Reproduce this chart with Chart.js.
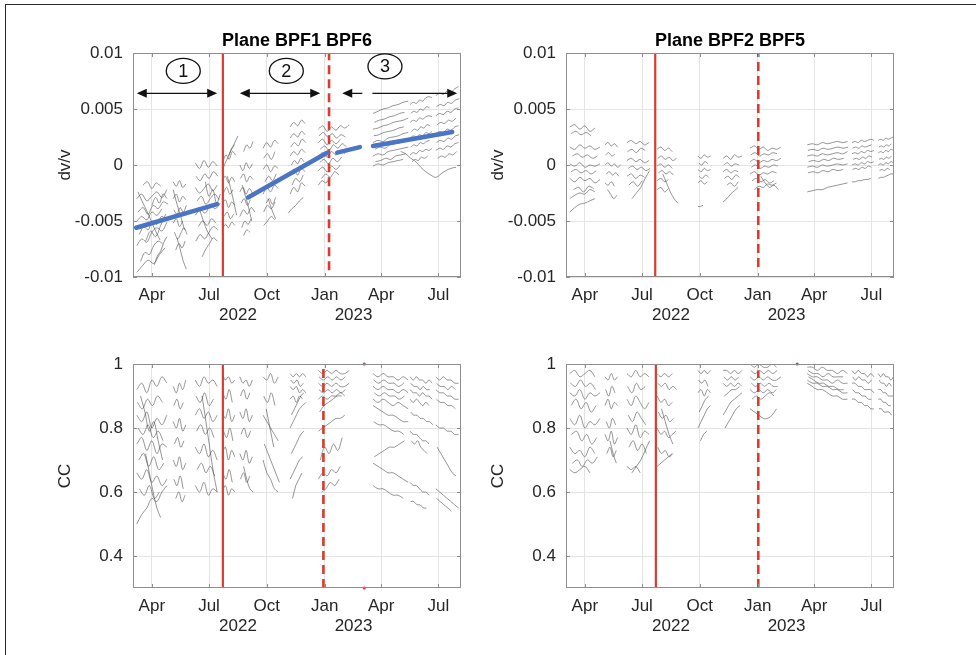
<!DOCTYPE html>
<html>
<head>
<meta charset="utf-8">
<script src="https://cdn.jsdelivr.net/npm/chart.js@4.4.1/dist/chart.umd.min.js"></script>
<style>
  html, body { margin: 0; padding: 0; background: #fff; }
  body { width: 976px; height: 655px; position: relative; overflow: hidden; }
  .frame { position: absolute; left: 5px; top: 4px; width: 990px; height: 670px;
           border-top: 1.5px solid #2a2a2a; border-left: 1.5px solid #2a2a2a; }
  .panel { position: absolute; }
</style>
</head>
<body>
<div class="frame"></div>
<div class="panel" style="left:0;top:20px"><canvas id="tl" width="490" height="307"></canvas></div>
<div class="panel" style="left:433px;top:20px"><canvas id="tr" width="490" height="307"></canvas></div>
<div class="panel" style="left:0;top:330px"><canvas id="bl" width="490" height="308"></canvas></div>
<div class="panel" style="left:433px;top:330px"><canvas id="br" width="490" height="308"></canvas></div>
<script>
// x axis is "days since 1 Jan 2022"
const dayMin = 60, dayMax = 582;
const monthTickDays = [90, 181, 273, 365, 455, 546];
const monthTickLabels = ["Apr", "Jul", "Oct", "Jan", "Apr", "Jul"];
const yearLabels = ["2022", "2023"];
const yearLabelDays = [227, 411];

const panelTitles = ["Plane BPF1 BPF6", "Plane BPF2 BPF5"];

// red markers, order: [BPF1 BPF6 dv/v, BPF2 BPF5 dv/v, BPF1 BPF6 CC, BPF2 BPF5 CC]
const redSolidDay = [203, 202, 203, 203];
const redDashedDay = [372, 366, 363, 366];
const redDashedTop = [0.01, 0.01, 0.985, 0.98];
const redDashedBottom = [-0.0094, -0.0091, 0.3, 0.3];
const redMarkDay = 428;

// linear trends (BPF1 BPF6), dv/v in 1e-3
const trendDays = [[65, 194], [243, 369], [385, 421], [442, 568]];
const trendDvv = [[-5.6, -3.5], [-2.9, 1.1], [1.1, 1.6], [1.7, 2.95]];

// phase annotations
const phaseLabels = ["1", "2", "3"];
const phaseLabelDays = [140, 304, 461];
const phaseLabelDvv = [8.4, 8.4, 8.8];
const phaseArrowDays = [[66, 194], [230, 358], [393, 576]];
const phaseArrowDvv = 6.4;

// daily curves: [startDay, stepDays, value, value, ...]
// dv/v values in units of 1e-3
const dvvSegsBPF16 = [
  [66, 8, -3.0, -2.6, -3.2, -2.8, -2.4, -2.9, -2.2],
  [68, 8, -4.2, -3.8, -4.4, -3.6, -3.9, -3.3, -3.5],
  [66, 8, -5.0, -4.6, -4.9, -4.2, -4.5, -3.9],
  [70, 7, -6.2, -5.5, -5.8, -5.0, -5.3, -4.6, -4.8],
  [66, 8, -7.2, -6.6, -6.9, -6.0, -5.6, -5.9, -5.1],
  [72, 7, -8.6, -7.8, -8.0, -7.2, -6.8, -7.0],
  [66, 9, -9.6, -9.0, -8.5, -8.8, -8.0, -7.4],
  [76, 7, -1.8, -1.5, -2.1, -1.6, -1.9],
  [90, 6, -3.6, -2.9, -3.4, -2.6, -3.0],
  [80, 8, -6.8, -5.9, -6.4, -5.4, -4.4],
  [68, 7, -2.4, -3.3, -4.1, -5.0, -5.9, -6.7],
  [94, 5, -8.9, -8.1, -7.7, -6.9, -6.4],
  [124, 5, -1.5, -1.9, -1.4, -2.0, -1.7],
  [124, 5, -3.0, -2.6, -3.3, -2.8, -3.1],
  [125, 5, -4.0, -4.4, -3.8, -4.2, -3.6],
  [124, 5, -5.2, -4.8, -5.5, -5.0],
  [126, 5, -6.0, -6.6, -6.1, -5.6, -6.2],
  [128, 5, -7.6, -7.0, -7.4, -6.8],
  [124, 6, -2.2, -3.5, -4.6, -5.8],
  [130, 5, -6.5, -7.5, -8.6, -9.3],
  [159, 7, 0.2, -0.3, 0.4, -0.2, 0.3, -0.1],
  [160, 7, -1.0, -1.4, -0.8, -1.2, -0.6, -1.0],
  [159, 7, -2.0, -2.5, -2.1, -1.7, -2.3, -1.8],
  [162, 7, -3.2, -2.8, -3.5, -3.0, -2.6, -3.1],
  [159, 8, -4.5, -4.0, -4.3, -3.6, -3.9, -3.4],
  [164, 7, -5.5, -5.0, -5.4, -4.8, -5.2],
  [160, 7, -6.8, -6.2, -6.6, -6.0, -5.5, -5.8],
  [170, 6, -8.2, -7.5, -7.0, -6.5, -6.8],
  [165, 7, -3.8, -5.0, -6.0, -6.6],
  [175, 6, -1.5, -2.8, -2.2, -3.4, -2.6],
  [202, 5, -0.5, 0.2, 0.8, 1.5, 1.8],
  [203, 5, 0.3, 0.9, 0.5, 1.2, 0.9],
  [202, 5, -1.4, -1.0, -1.6, -1.1, -1.5],
  [204, 5, -2.5, -2.0, -2.6, -2.2],
  [202, 5, -3.5, -3.1, -3.8, -3.3, -3.6],
  [205, 5, -4.6, -4.2, -4.8, -4.4],
  [202, 5, -5.8, -5.3, -5.6, -5.1, -5.4],
  [210, 5, -1.0, -2.0, -3.2, -4.5],
  [212, 5, 0.8, 1.4, 2.0, 2.6],
  [230, 5, 0.0, -0.5, 0.2, -0.3, 0.1],
  [231, 5, -1.2, -0.8, -1.5, -1.0, -1.3],
  [230, 5, -2.4, -2.0, -2.6, -2.1, -2.5],
  [232, 5, -3.4, -3.0, -3.6, -3.1],
  [230, 6, -4.6, -4.0, -4.4, -3.8, -4.2],
  [233, 5, -5.6, -5.0, -5.3, -4.8],
  [236, 5, -6.3, -5.8, -6.0],
  [234, 5, -1.8, -2.8, -3.8, -5.0],
  [236, 5, 1.2, 1.8, 1.5, 2.1],
  [267, 6, 1.5, 2.0, 1.6, 2.2, 1.9],
  [268, 6, 0.6, 1.0, 0.5, 1.2],
  [267, 6, -0.4, 0.0, -0.6, -0.1, -0.3],
  [270, 6, -1.5, -1.0, -1.4, -0.8],
  [267, 6, -2.6, -2.0, -2.4, -1.8, -2.1],
  [272, 5, -3.4, -3.0, -3.5, -2.9],
  [268, 6, -4.2, -3.6, -3.9, -3.3],
  [275, 6, -3.0, -4.0, -4.8],
  [268, 6, -5.4, -5.0, -4.6, -4.9],
  [310, 6, 3.4, 3.8, 3.5, 4.0, 3.7],
  [310, 6, 2.4, 2.8, 2.5, 3.0, 2.7],
  [311, 6, 1.6, 2.0, 1.7, 2.3, 2.0],
  [310, 6, 0.8, 1.2, 0.9, 1.4, 1.1],
  [312, 5, 0.0, 0.4, 0.1, 0.6, 0.3],
  [310, 6, -0.8, -0.4, -0.9, -0.3, -0.6],
  [313, 6, -1.8, -1.2, -1.5, -0.9],
  [310, 6, -2.6, -2.0, -2.4, -1.6, -1.9],
  [307, 6, -4.3, -3.9, -3.6, -3.2, -2.9],
  [355, 7, 3.2, 3.5, 3.0, 3.4, 3.1, 3.5, 3.3, 3.6],
  [356, 7, 2.6, 2.9, 2.5, 2.8, 2.4, 2.7, 2.5],
  [355, 7, 2.0, 2.3, 1.8, 2.2, 1.9, 2.3],
  [358, 7, 1.4, 1.7, 1.3, 1.8, 1.5, 1.9, 1.6],
  [355, 7, 0.8, 1.1, 0.7, 1.2, 0.9, 1.3, 1.0],
  [357, 7, 0.2, 0.5, 0.1, 0.6, 0.3, 0.7],
  [355, 7, -0.5, -0.2, -0.6, -0.1, -0.4, 0.0],
  [360, 7, -1.2, -0.8, -1.1, -0.6, -0.9],
  [355, 6, -1.8, -1.4, -1.6, -1.1],
  [442, 8, 4.6, 4.8, 5.0, 5.1, 5.3, 5.4, 5.6, 5.7],
  [444, 8, 3.8, 4.0, 4.1, 4.3, 4.4, 4.6, 4.7],
  [442, 8, 3.2, 3.3, 3.5, 3.6, 3.8, 3.9, 4.0, 4.2],
  [443, 8, 2.6, 2.7, 2.9, 3.0, 3.1, 3.3, 3.4],
  [442, 8, 2.0, 2.2, 2.1, 2.4, 2.5, 2.6, 2.8, 2.9],
  [445, 8, 1.4, 1.6, 1.5, 1.8, 1.9, 2.0, 2.2],
  [442, 8, 0.8, 1.0, 0.9, 1.2, 1.3, 1.4, 1.5, 1.6],
  [446, 8, 0.3, 0.4, 0.6, 0.5, 0.8, 0.9, 1.0],
  [442, 8, -0.1, 0.1, 0.0, 0.2, 0.3, 0.4, 0.5],
  [486, 8, 1.2, 1.0, 0.6, 0.3, -0.2, -0.6, -0.9, -1.1, -0.8, -0.5, -0.3, -0.2],
  [501, 5, 5.4, 5.6, 5.5, 5.8, 5.7, 6.0, 6.1, 6.0],
  [502, 5, 4.6, 4.8, 4.7, 5.0, 4.9, 5.2, 5.1],
  [501, 5, 3.8, 4.0, 3.9, 4.2, 4.1, 4.3, 4.4, 4.3],
  [503, 5, 3.0, 3.2, 3.1, 3.4, 3.3, 3.6, 3.5],
  [501, 5, 2.4, 2.6, 2.5, 2.7, 2.6, 2.9, 2.8, 3.0],
  [502, 5, 1.6, 1.8, 1.7, 2.0, 1.9, 2.1, 2.2],
  [501, 5, 0.9, 1.1, 1.0, 1.3, 1.2, 1.4, 1.3, 1.5],
  [504, 5, 0.3, 0.5, 0.4, 0.7, 0.6, 0.8],
  [542, 6, 6.2, 6.4, 6.3, 6.6, 6.5, 6.8, 7.0],
  [543, 6, 5.2, 5.4, 5.3, 5.6, 5.5, 5.8, 5.9],
  [542, 6, 4.4, 4.6, 4.5, 4.8, 4.7, 5.0, 5.1],
  [544, 6, 3.6, 3.8, 3.7, 4.0, 3.9, 4.2],
  [542, 6, 2.8, 3.0, 2.9, 3.2, 3.1, 3.4, 3.5],
  [543, 6, 2.0, 2.2, 2.1, 2.4, 2.3, 2.6, 2.7],
  [542, 6, 1.3, 1.5, 1.4, 1.7, 1.6, 1.9, 2.0],
  [545, 6, 0.6, 0.8, 0.7, 1.0, 0.9, 1.2]
];

const dvvSegsBPF25 = [
  [66, 8, 3.4, 3.6, 3.2, 3.5, 3.0, 3.3],
  [68, 8, 2.8, 3.0, 2.7, 2.9, 2.6],
  [66, 8, 1.6, 1.4, 1.8, 1.5, 1.7, 1.4, 1.6],
  [70, 8, 0.8, 1.0, 0.7, 0.9, 0.6, 0.8],
  [66, 8, 0.1, -0.1, 0.2, -0.2, 0.0, -0.1, 0.1],
  [68, 8, -0.6, -0.4, -0.7, -0.5, -0.8, -0.5],
  [66, 8, -1.2, -1.5, -1.1, -1.4, -1.2, -1.6, -1.3],
  [72, 8, -2.2, -2.0, -2.4, -1.9, -2.1],
  [66, 8, -3.0, -2.7, -2.5, -2.6, -2.2, -2.4],
  [66, 8, -4.2, -3.8, -3.5, -3.4, -3.2, -3.0],
  [122, 5, 1.8, 2.0, 1.7, 1.9, 1.6],
  [123, 5, 0.9, 1.1, 0.8, 1.0],
  [122, 5, 0.0, 0.2, -0.1, 0.1, -0.2, 0.0],
  [124, 5, -0.8, -0.6, -0.9, -0.7, -1.0],
  [122, 5, -1.6, -1.8, -1.5, -1.9],
  [126, 5, -2.2, -2.6, -3.0, -2.7],
  [157, 7, 2.0, 2.2, 1.9, 2.1, 1.8, 2.0],
  [158, 7, 1.2, 1.4, 1.1, 1.5, 1.3],
  [157, 7, 0.4, 0.6, 0.3, 0.5, 0.2, 0.4],
  [159, 7, -0.3, -0.1, -0.4, -0.2, -0.5, -0.3],
  [157, 7, -1.0, -0.8, -1.2, -0.9, -1.1],
  [160, 7, -1.8, -1.5, -1.9, -1.4],
  [165, 7, -3.0, -2.5, -2.0, -1.2, -0.5],
  [205, 6, 1.4, 1.6, 1.3, 1.5, 1.2],
  [206, 6, 0.6, 0.8, 0.5, 0.7, 0.4, 0.6],
  [205, 6, -0.1, 0.1, -0.2, 0.0, -0.3],
  [207, 6, -0.7, -0.5, -0.8, -0.6, -0.9],
  [205, 6, -1.4, -1.2, -1.5, -1.3],
  [214, 6, -0.8, -1.6, -2.4, -3.0, -3.4],
  [205, 6, -2.2, -2.0, -2.4, -2.1],
  [270, 5, 0.8, 0.6, 0.9, 0.7, 0.8],
  [271, 5, 0.2, 0.0, 0.3, 0.1],
  [270, 5, -0.4, -0.6, -0.3, -0.5, -0.4],
  [272, 5, -1.0, -1.2, -0.9, -1.1],
  [270, 5, -1.6, -1.4, -1.7, -1.5],
  [270, 4, -3.7, -3.7, -3.6],
  [310, 6, 0.6, 0.8, 0.5, 0.9, 0.7, 0.8],
  [311, 6, 0.0, 0.2, -0.1, 0.1, 0.0],
  [310, 6, -0.6, -0.4, -0.7, -0.5, -0.6],
  [312, 6, -1.2, -1.0, -1.3, -0.9, -1.1],
  [310, 6, -3.3, -3.0, -2.6, -2.3, -2.0],
  [316, 6, -1.8, -1.6, -1.9, -1.5],
  [353, 7, 1.5, 1.7, 1.4, 1.6, 1.3, 1.5, 1.4, 1.6],
  [354, 7, 0.9, 1.1, 0.8, 1.0, 0.9, 1.1, 1.0],
  [353, 7, 0.3, 0.5, 0.2, 0.4, 0.3, 0.5, 0.4, 0.6],
  [355, 7, -0.2, 0.0, -0.3, -0.1, -0.2, 0.0, -0.1],
  [353, 7, -0.8, -0.6, -0.9, -0.7, -0.8, -0.6, -0.7],
  [356, 7, -1.4, -1.2, -1.5, -1.3, -1.6, -1.4],
  [360, 7, -2.2, -1.9, -2.0, -1.7, -1.8, -1.6],
  [370, 7, -1.0, -1.6, -2.0, -1.8, -2.2],
  [444, 8, 1.8, 1.9, 1.8, 2.0, 1.9, 2.0, 2.1, 2.0, 2.1],
  [445, 8, 1.3, 1.4, 1.3, 1.5, 1.4, 1.5, 1.6, 1.5, 1.6],
  [444, 8, 0.8, 0.9, 0.8, 1.0, 0.9, 1.0, 1.1, 1.0, 1.2],
  [446, 8, 0.3, 0.4, 0.3, 0.5, 0.4, 0.6, 0.5, 0.6],
  [444, 8, -0.2, -0.1, -0.2, 0.0, -0.1, 0.0, 0.1, 0.0, 0.1],
  [445, 8, -0.7, -0.6, -0.7, -0.5, -0.6, -0.4, -0.5, -0.4],
  [444, 8, -2.4, -2.3, -2.2, -2.2, -2.0, -1.9, -1.8, -1.7, -1.6],
  [515, 5, 2.0, 2.1, 2.0, 2.2, 2.1, 2.2, 2.3, 2.2],
  [516, 5, 1.5, 1.6, 1.5, 1.7, 1.6, 1.7, 1.8],
  [515, 5, 1.0, 1.1, 1.0, 1.2, 1.1, 1.3, 1.2, 1.3],
  [517, 5, 0.5, 0.6, 0.5, 0.7, 0.6, 0.8, 0.7],
  [515, 5, 0.0, 0.1, 0.0, 0.2, 0.1, 0.3, 0.2, 0.3],
  [516, 5, -0.4, -0.3, -0.4, -0.2, -0.3, -0.1, -0.2],
  [515, 5, -1.5, -1.5, -1.4, -1.4, -1.3, -1.3, -1.2],
  [557, 4, 2.2, 2.3, 2.2, 2.4, 2.3, 2.4, 2.5],
  [558, 4, 1.6, 1.7, 1.6, 1.8, 1.7, 1.9],
  [557, 4, 1.1, 1.2, 1.1, 1.3, 1.2, 1.4, 1.3],
  [558, 4, 0.5, 0.6, 0.5, 0.7, 0.6, 0.8],
  [557, 4, 0.0, 0.1, 0.0, 0.2, 0.1, 0.3, 0.2],
  [559, 4, -0.5, -0.4, -0.5, -0.3, -0.4],
  [557, 4, -1.2, -1.1, -1.1, -1.0, -0.9, -0.8, -0.8]
];

const ccSegsBPF16 = [
  [66, 8, 0.92, 0.94, 0.91, 0.95, 0.93, 0.96, 0.94],
  [67, 8, 0.88, 0.86, 0.89, 0.87, 0.90, 0.88],
  [66, 8, 0.84, 0.82, 0.85, 0.80, 0.83, 0.81, 0.84],
  [68, 8, 0.80, 0.78, 0.81, 0.77, 0.79, 0.76],
  [66, 8, 0.75, 0.77, 0.73, 0.76, 0.72, 0.75, 0.74],
  [69, 8, 0.70, 0.72, 0.68, 0.71, 0.67, 0.69],
  [66, 8, 0.66, 0.64, 0.67, 0.63, 0.65, 0.62, 0.64],
  [70, 8, 0.61, 0.59, 0.62, 0.58, 0.60],
  [66, 8, 0.50, 0.53, 0.55, 0.58, 0.57, 0.60, 0.62],
  [80, 6, 0.72, 0.66, 0.60, 0.55, 0.52],
  [72, 7, 0.90, 0.85, 0.79, 0.82, 0.76, 0.70],
  [124, 5, 0.93, 0.91, 0.94, 0.92, 0.95],
  [125, 5, 0.87, 0.89, 0.86, 0.88],
  [124, 5, 0.82, 0.80, 0.83, 0.79, 0.81],
  [126, 5, 0.75, 0.77, 0.74, 0.76],
  [124, 5, 0.70, 0.68, 0.71, 0.67, 0.69],
  [125, 5, 0.64, 0.62, 0.65, 0.61],
  [128, 5, 0.58, 0.60, 0.57, 0.59],
  [159, 7, 0.95, 0.93, 0.96, 0.94, 0.95, 0.93],
  [160, 7, 0.90, 0.88, 0.91, 0.87, 0.89],
  [159, 7, 0.84, 0.86, 0.83, 0.85, 0.82, 0.84],
  [161, 7, 0.79, 0.81, 0.78, 0.80, 0.77],
  [159, 7, 0.74, 0.72, 0.75, 0.71, 0.73, 0.70],
  [162, 7, 0.67, 0.69, 0.66, 0.68, 0.65],
  [159, 7, 0.62, 0.60, 0.63, 0.59, 0.61, 0.60],
  [170, 6, 0.90, 0.82, 0.74, 0.66, 0.60],
  [202, 5, 0.97, 0.95, 0.96, 0.94, 0.95],
  [203, 5, 0.91, 0.89, 0.92, 0.88],
  [202, 5, 0.85, 0.83, 0.86, 0.82, 0.84],
  [204, 5, 0.79, 0.77, 0.80, 0.76],
  [202, 5, 0.72, 0.74, 0.70, 0.73, 0.71],
  [203, 5, 0.66, 0.64, 0.67, 0.63],
  [202, 5, 0.60, 0.62, 0.59, 0.61, 0.60],
  [230, 5, 0.96, 0.94, 0.95, 0.93, 0.95],
  [231, 5, 0.90, 0.92, 0.89, 0.91],
  [230, 5, 0.85, 0.83, 0.86, 0.82, 0.84],
  [232, 5, 0.78, 0.80, 0.77, 0.79],
  [230, 5, 0.72, 0.70, 0.73, 0.69, 0.71],
  [231, 5, 0.64, 0.66, 0.63, 0.65],
  [236, 5, 0.68, 0.64, 0.61, 0.60],
  [267, 6, 0.96, 0.95, 0.97, 0.94, 0.96],
  [268, 6, 0.90, 0.88, 0.91, 0.87],
  [267, 6, 0.84, 0.82, 0.80, 0.78, 0.76],
  [269, 6, 0.75, 0.72, 0.69, 0.66, 0.63],
  [267, 6, 0.70, 0.66, 0.64, 0.61, 0.60],
  [272, 6, 0.86, 0.80, 0.74],
  [310, 5, 0.97, 0.96, 0.97, 0.96, 0.97, 0.96],
  [311, 5, 0.95, 0.94, 0.95, 0.93, 0.94],
  [310, 5, 0.93, 0.92, 0.93, 0.91, 0.92, 0.91],
  [310, 5, 0.89, 0.90, 0.88, 0.90, 0.89],
  [312, 5, 0.84, 0.86, 0.88, 0.90, 0.91],
  [310, 5, 0.80, 0.82, 0.84, 0.86, 0.87, 0.88],
  [312, 5, 0.72, 0.74, 0.76, 0.78, 0.79],
  [310, 5, 0.64, 0.66, 0.68, 0.70, 0.71],
  [314, 5, 0.58, 0.62, 0.64, 0.66],
  [355, 7, 0.98, 0.97, 0.98, 0.97, 0.98, 0.97, 0.97, 0.98],
  [356, 7, 0.96, 0.95, 0.96, 0.95, 0.96, 0.95, 0.96],
  [355, 7, 0.94, 0.93, 0.94, 0.93, 0.94, 0.93, 0.93, 0.94],
  [356, 7, 0.92, 0.91, 0.92, 0.91, 0.92, 0.91, 0.92],
  [355, 7, 0.89, 0.90, 0.89, 0.90, 0.90, 0.91, 0.90],
  [357, 7, 0.85, 0.87, 0.88, 0.89, 0.90, 0.90],
  [355, 7, 0.79, 0.80, 0.81, 0.82, 0.83, 0.83, 0.84],
  [358, 7, 0.70, 0.74, 0.72, 0.75, 0.73, 0.77],
  [355, 7, 0.64, 0.66, 0.65, 0.67, 0.66, 0.68],
  [360, 7, 0.60, 0.61, 0.63, 0.62, 0.64],
  [442, 8, 0.97, 0.96, 0.97, 0.96, 0.96, 0.95, 0.96, 0.95],
  [443, 8, 0.95, 0.94, 0.95, 0.94, 0.94, 0.93, 0.94],
  [442, 8, 0.93, 0.92, 0.93, 0.92, 0.92, 0.91, 0.92, 0.91],
  [444, 8, 0.91, 0.90, 0.91, 0.90, 0.90, 0.89, 0.90],
  [442, 8, 0.89, 0.88, 0.89, 0.88, 0.87, 0.88, 0.87, 0.86],
  [442, 8, 0.87, 0.86, 0.85, 0.84, 0.84, 0.83, 0.82, 0.82],
  [443, 8, 0.82, 0.81, 0.81, 0.80, 0.79, 0.79, 0.78],
  [444, 8, 0.71, 0.72, 0.73, 0.74, 0.74, 0.75, 0.76],
  [442, 8, 0.69, 0.68, 0.67, 0.66, 0.66, 0.65, 0.64, 0.63],
  [442, 8, 0.62, 0.61, 0.61, 0.60, 0.59, 0.59, 0.58],
  [501, 5, 0.96, 0.95, 0.96, 0.95, 0.95, 0.94, 0.95, 0.94],
  [502, 5, 0.94, 0.93, 0.93, 0.92, 0.93, 0.92, 0.92],
  [501, 5, 0.92, 0.91, 0.91, 0.90, 0.91, 0.90, 0.90, 0.89],
  [501, 5, 0.89, 0.88, 0.89, 0.88, 0.87, 0.88, 0.87],
  [502, 5, 0.85, 0.84, 0.84, 0.83, 0.83, 0.82, 0.82, 0.81],
  [501, 5, 0.79, 0.78, 0.78, 0.77, 0.76, 0.76, 0.75],
  [503, 5, 0.76, 0.75, 0.76, 0.74, 0.73, 0.72],
  [501, 5, 0.63, 0.62, 0.62, 0.61, 0.60, 0.60, 0.59],
  [502, 5, 0.57, 0.57, 0.56, 0.56, 0.55, 0.55],
  [542, 6, 0.96, 0.95, 0.96, 0.95, 0.95, 0.94, 0.94],
  [543, 6, 0.94, 0.93, 0.93, 0.92, 0.93, 0.92],
  [542, 6, 0.92, 0.91, 0.91, 0.90, 0.90, 0.89, 0.89],
  [543, 6, 0.89, 0.88, 0.88, 0.87, 0.87, 0.86],
  [542, 6, 0.81, 0.80, 0.80, 0.79, 0.79, 0.78, 0.78],
  [544, 6, 0.74, 0.72, 0.70, 0.68, 0.66, 0.65],
  [542, 6, 0.61, 0.60, 0.59, 0.58, 0.57, 0.56, 0.55],
  [543, 6, 0.58, 0.57, 0.56, 0.55, 0.54]
];

const ccSegsBPF25 = [
  [66, 8, 0.97, 0.98, 0.96, 0.97, 0.98, 0.96],
  [67, 8, 0.94, 0.93, 0.95, 0.93, 0.94, 0.92],
  [66, 8, 0.91, 0.90, 0.92, 0.89, 0.91, 0.90, 0.91],
  [68, 8, 0.87, 0.89, 0.86, 0.88, 0.85, 0.87],
  [66, 8, 0.83, 0.81, 0.84, 0.80, 0.82, 0.81, 0.83],
  [69, 8, 0.78, 0.79, 0.76, 0.78, 0.75, 0.77],
  [66, 8, 0.74, 0.72, 0.73, 0.71, 0.74, 0.72],
  [70, 8, 0.69, 0.70, 0.68, 0.70, 0.69, 0.71],
  [66, 8, 0.67, 0.66, 0.67, 0.68, 0.66],
  [122, 5, 0.96, 0.95, 0.97, 0.95, 0.96],
  [123, 5, 0.92, 0.90, 0.93, 0.91],
  [122, 5, 0.87, 0.89, 0.86, 0.88, 0.87],
  [124, 5, 0.82, 0.80, 0.83, 0.81],
  [122, 5, 0.78, 0.76, 0.79, 0.75, 0.77],
  [125, 5, 0.72, 0.74, 0.71, 0.73],
  [130, 5, 0.76, 0.72, 0.69],
  [157, 7, 0.97, 0.96, 0.98, 0.96, 0.97, 0.96],
  [158, 7, 0.93, 0.91, 0.94, 0.92, 0.93],
  [157, 7, 0.89, 0.87, 0.90, 0.88, 0.86, 0.88],
  [159, 7, 0.84, 0.82, 0.85, 0.83, 0.81],
  [157, 7, 0.80, 0.78, 0.81, 0.77, 0.79, 0.78],
  [160, 7, 0.74, 0.76, 0.73, 0.75, 0.72],
  [165, 7, 0.66, 0.68, 0.70, 0.73, 0.76],
  [157, 7, 0.68, 0.67, 0.68, 0.66],
  [205, 6, 0.97, 0.96, 0.97, 0.96, 0.97],
  [206, 6, 0.94, 0.93, 0.94, 0.92, 0.93, 0.92],
  [205, 6, 0.90, 0.88, 0.89, 0.87, 0.88],
  [207, 6, 0.85, 0.83, 0.84, 0.82, 0.83],
  [205, 6, 0.80, 0.78, 0.79, 0.77, 0.78, 0.79],
  [206, 6, 0.74, 0.72, 0.73, 0.71, 0.72],
  [205, 6, 0.68, 0.69, 0.70, 0.71, 0.72],
  [212, 6, 0.86, 0.82, 0.78, 0.75],
  [270, 5, 0.98, 0.97, 0.98, 0.97, 0.98],
  [271, 5, 0.95, 0.94, 0.95, 0.93],
  [270, 5, 0.91, 0.92, 0.90, 0.92, 0.91],
  [272, 5, 0.85, 0.87, 0.89, 0.90],
  [270, 5, 0.80, 0.82, 0.84, 0.86, 0.87],
  [274, 5, 0.76, 0.78, 0.79],
  [310, 6, 0.98, 0.98, 0.97, 0.98, 0.97, 0.98],
  [311, 6, 0.96, 0.95, 0.96, 0.95, 0.96],
  [310, 6, 0.94, 0.93, 0.94, 0.93, 0.94, 0.93],
  [312, 6, 0.90, 0.91, 0.92, 0.92, 0.93],
  [310, 6, 0.84, 0.86, 0.88, 0.89, 0.90, 0.91],
  [313, 6, 0.80, 0.82, 0.84, 0.86, 0.87],
  [353, 7, 1.00, 0.99, 1.00, 0.99, 0.99, 1.00, 0.99],
  [354, 7, 0.98, 0.97, 0.98, 0.97, 0.98, 0.97, 0.98],
  [353, 7, 0.96, 0.95, 0.96, 0.95, 0.96, 0.95, 0.95, 0.96],
  [355, 7, 0.94, 0.93, 0.94, 0.93, 0.94, 0.93, 0.93],
  [353, 7, 0.92, 0.91, 0.92, 0.91, 0.92, 0.91, 0.92],
  [356, 7, 0.89, 0.90, 0.89, 0.90, 0.91, 0.90],
  [353, 7, 0.86, 0.85, 0.84, 0.83, 0.83, 0.84, 0.86],
  [444, 8, 0.99, 0.99, 0.98, 0.99, 0.98, 0.98, 0.97, 0.98, 0.97],
  [445, 8, 0.98, 0.97, 0.97, 0.96, 0.97, 0.96, 0.96, 0.96],
  [444, 8, 0.97, 0.96, 0.96, 0.95, 0.95, 0.94, 0.95, 0.94, 0.94],
  [446, 8, 0.96, 0.95, 0.94, 0.94, 0.93, 0.93, 0.92, 0.92],
  [444, 8, 0.95, 0.94, 0.94, 0.93, 0.93, 0.92, 0.92, 0.91, 0.91],
  [444, 8, 0.94, 0.93, 0.92, 0.92, 0.91, 0.90, 0.90, 0.89, 0.89],
  [515, 5, 0.98, 0.97, 0.98, 0.97, 0.97, 0.96, 0.97, 0.96],
  [516, 5, 0.96, 0.95, 0.96, 0.95, 0.95, 0.94, 0.95],
  [515, 5, 0.94, 0.94, 0.93, 0.93, 0.92, 0.92, 0.92, 0.91],
  [516, 5, 0.92, 0.91, 0.91, 0.90, 0.90, 0.89, 0.89],
  [515, 5, 0.89, 0.89, 0.88, 0.88, 0.87, 0.87, 0.86, 0.86],
  [557, 4, 0.97, 0.96, 0.97, 0.96, 0.96, 0.95, 0.96],
  [558, 4, 0.95, 0.94, 0.94, 0.93, 0.94, 0.93],
  [557, 4, 0.92, 0.92, 0.91, 0.91, 0.90, 0.90, 0.90],
  [557, 4, 0.89, 0.89, 0.88, 0.88, 0.87, 0.87],
  [558, 4, 0.86, 0.86, 0.85, 0.85, 0.85, 0.84]
];

const FONT = '"Liberation Sans", Arial, Helvetica, sans-serif';
const TEXT = "#262626";
const RED = "#db3a30";
const BLUE = "#4a74c4";
const GRAY_LINE = "rgba(70,70,70,0.72)";
const GRID = "#e4e4e4";

Chart.defaults.font.family = FONT;
Chart.defaults.color = TEXT;

function segmentSets(segs, k) {
  return segs.map(s => ({
    data: s.slice(2).map((v, i) => ({ x: s[0] + i * s[1], y: v * k })),
    borderColor: GRAY_LINE,
    borderWidth: 0.8,
    tension: 0.35,
    pointRadius: 0,
    order: 3
  }));
}

function vline(day, y0, y1, dashed) {
  return {
    data: [{ x: day, y: y0 }, { x: day, y: y1 }],
    borderColor: RED,
    borderWidth: dashed ? 2.6 : 2.2,
    borderDash: dashed ? [9, 5] : [],
    pointRadius: 0,
    order: 1
  };
}

// MATLAB-ish axes box, inward ticks, panel title, year labels and annotations
const matlabLook = {
  id: "matlabLook",
  afterDatasetsDraw(chart, args, opts) {
    const { ctx, chartArea: a, scales: { x, y } } = chart;
    ctx.save();

    ctx.strokeStyle = "#8e8e8e";
    ctx.lineWidth = 1;
    ctx.strokeRect(a.left + 0.5, a.top + 0.5, a.right - a.left - 1, a.bottom - a.top - 1);

    ctx.beginPath();
    x.ticks.forEach(t => {
      const px = Math.round(x.getPixelForValue(t.value)) + 0.5;
      ctx.moveTo(px, a.bottom); ctx.lineTo(px, a.bottom - 4);
      ctx.moveTo(px, a.top); ctx.lineTo(px, a.top + 4);
    });
    y.ticks.forEach(t => {
      const py = Math.round(y.getPixelForValue(t.value)) + 0.5;
      ctx.moveTo(a.left, py); ctx.lineTo(a.left + 4, py);
      ctx.moveTo(a.right, py); ctx.lineTo(a.right - 4, py);
    });
    ctx.stroke();

    ctx.fillStyle = TEXT;
    ctx.textAlign = "center";
    ctx.textBaseline = "middle";
    ctx.font = "17px " + FONT;
    yearLabels.forEach((lab, i) => {
      ctx.fillText(lab, x.getPixelForValue(yearLabelDays[i]), a.bottom + 38);
    });

    if (opts.title) {
      ctx.fillStyle = "#000";
      ctx.font = "bold 18px " + FONT;
      ctx.fillText(opts.title, (a.left + a.right) / 2, a.top - 12);
    }

    if (opts.phases) {
      ctx.strokeStyle = "#111";
      ctx.fillStyle = "#111";
      ctx.lineWidth = 1.2;
      const ay = y.getPixelForValue(phaseArrowDvv * 1e-3);
      phaseArrowDays.forEach(([d0, d1], i) => {
        const x0 = x.getPixelForValue(d0), x1 = x.getPixelForValue(d1);
        ctx.beginPath();
        if (i === 2) {
          ctx.moveTo(x0 + 8, ay); ctx.lineTo(x.getPixelForValue(425), ay);
          ctx.moveTo(x.getPixelForValue(441), ay); ctx.lineTo(x1 - 8, ay);
        } else {
          ctx.moveTo(x0 + 8, ay); ctx.lineTo(x1 - 8, ay);
        }
        ctx.stroke();
        ctx.beginPath();
        ctx.moveTo(x0, ay); ctx.lineTo(x0 + 10, ay - 4.5); ctx.lineTo(x0 + 10, ay + 4.5); ctx.closePath();
        ctx.moveTo(x1, ay); ctx.lineTo(x1 - 10, ay - 4.5); ctx.lineTo(x1 - 10, ay + 4.5); ctx.closePath();
        ctx.fill();
      });
      ctx.font = "18px " + FONT;
      phaseLabels.forEach((lab, i) => {
        const cx = x.getPixelForValue(phaseLabelDays[i]);
        const cy = y.getPixelForValue(phaseLabelDvv[i] * 1e-3);
        ctx.beginPath();
        ctx.ellipse(cx, cy, 17, 12.5, 0, 0, Math.PI * 2);
        ctx.fillStyle = "#fff";
        ctx.fill();
        ctx.lineWidth = 1.3;
        ctx.stroke();
        ctx.fillStyle = "#111";
        ctx.fillText(lab, cx, cy + 1);
      });
    }
    ctx.restore();
  }
};

function xScale() {
  return {
    type: "linear",
    min: dayMin,
    max: dayMax,
    afterBuildTicks: s => { s.ticks = monthTickDays.map(v => ({ value: v })); },
    afterFit: s => { s.height = 50; },
    grid: { color: GRID, drawTicks: false },
    border: { display: false },
    ticks: {
      padding: 8,
      autoSkip: false,
      maxRotation: 0,
      font: { size: 17 },
      callback: (v, i) => monthTickLabels[i]
    }
  };
}

function yScaleDvv() {
  return {
    min: -0.01,
    max: 0.01,
    afterFit: s => { s.width = 133; },
    grid: { color: GRID, drawTicks: false },
    border: { display: false },
    ticks: {
      stepSize: 0.005,
      padding: 10,
      font: { size: 17 },
      callback: v => String(+v.toFixed(3))
    },
    title: { display: true, text: "dv/v", font: { size: 17 }, padding: { top: 55, bottom: 0 } }
  };
}

const ccTicks = [0.4, 0.6, 0.8, 1];
function yScaleCC() {
  return {
    min: 0.3,
    max: 1,
    afterFit: s => { s.width = 133; },
    afterBuildTicks: s => { s.ticks = ccTicks.map(v => ({ value: v })); },
    grid: { color: GRID, drawTicks: false },
    border: { display: false },
    ticks: { padding: 10, font: { size: 17 }, callback: v => String(v) },
    title: { display: true, text: "CC", font: { size: 17 }, padding: { top: 55, bottom: 0 } }
  };
}

function makePanel(id, datasets, yScale, pluginOpts, padTop) {
  new Chart(document.getElementById(id), {
    type: "line",
    data: { datasets },
    options: {
      responsive: false,
      animation: false,
      events: [],
      layout: { padding: { top: padTop, right: 29, bottom: 0, left: 0 } },
      plugins: { legend: { display: false }, tooltip: { enabled: false }, matlabLook: pluginOpts },
      scales: { x: xScale(), y: yScale }
    },
    plugins: [matlabLook]
  });
}

// top left: dv/v, BPF1 BPF6
const trendSets = trendDays.map((d, i) => ({
  data: d.map((day, j) => ({ x: day, y: trendDvv[i][j] * 1e-3 })),
  borderColor: BLUE,
  borderWidth: 4.5,
  borderCapStyle: "round",
  pointRadius: 0,
  order: 0
}));
makePanel("tl", [
  ...trendSets,
  vline(redSolidDay[0], -0.01, 0.01, false),
  vline(redDashedDay[0], redDashedBottom[0], redDashedTop[0], true),
  ...segmentSets(dvvSegsBPF16, 1e-3)
], yScaleDvv(), { title: panelTitles[0], phases: true }, 33);

// top right: dv/v, BPF2 BPF5
makePanel("tr", [
  vline(redSolidDay[1], -0.01, 0.01, false),
  vline(redDashedDay[1], redDashedBottom[1], redDashedTop[1], true),
  ...segmentSets(dvvSegsBPF25, 1e-3)
], yScaleDvv(), { title: panelTitles[1] }, 33);

function redMarks(ys) {
  return {
    data: ys.map(v => ({ x: redMarkDay, y: v })),
    showLine: false,
    pointRadius: 1.6,
    pointBorderWidth: 0,
    pointBackgroundColor: RED,
    clip: false,
    order: 1
  };
}

// bottom left: CC, BPF1 BPF6
makePanel("bl", [
  vline(redSolidDay[2], 0.3, 1, false),
  vline(redDashedDay[2], redDashedBottom[2], redDashedTop[2], true),
  redMarks([1, 0.3]),
  ...segmentSets(ccSegsBPF16, 1)
], yScaleCC(), {}, 34);

// bottom right: CC, BPF2 BPF5
makePanel("br", [
  vline(redSolidDay[3], 0.3, 1, false),
  vline(redDashedDay[3], redDashedBottom[3], redDashedTop[3], true),
  redMarks([1]),
  ...segmentSets(ccSegsBPF25, 1)
], yScaleCC(), {}, 34);
</script>
</body>
</html>
